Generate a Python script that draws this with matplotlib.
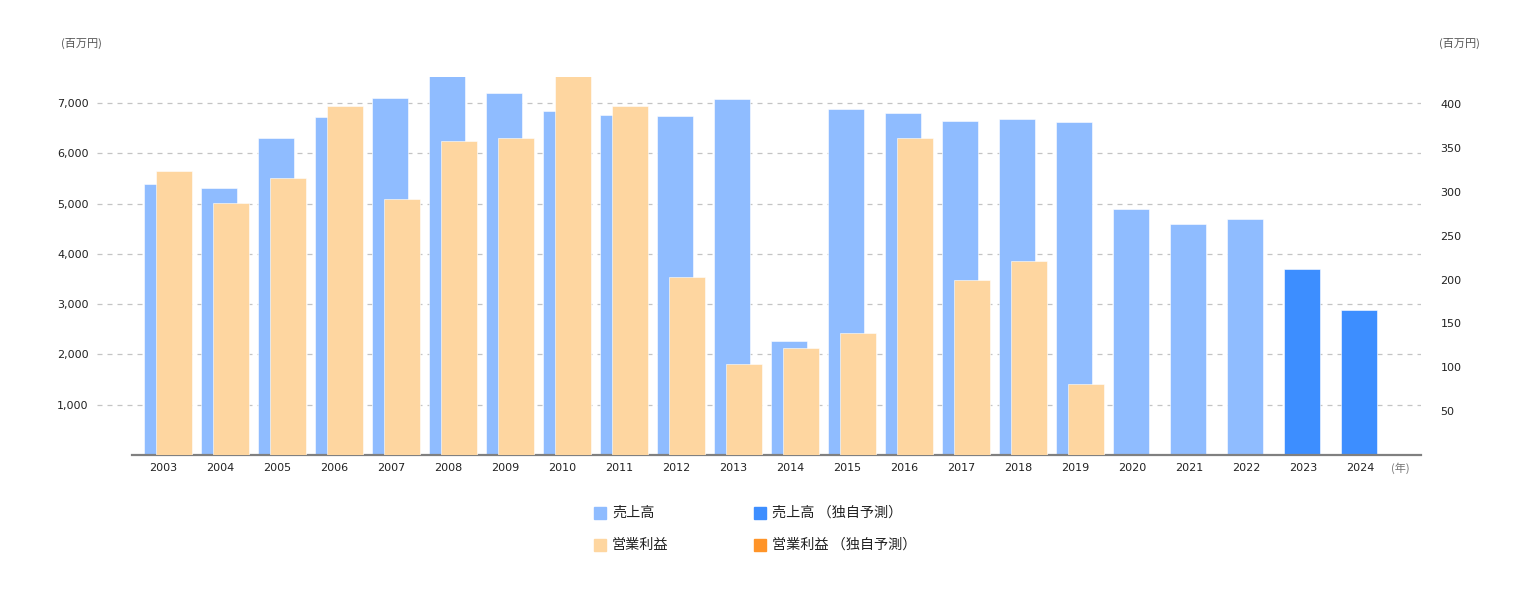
import numpy as np
import matplotlib
matplotlib.use("Agg")
import matplotlib.pyplot as plt
from matplotlib.patches import Rectangle

plt.rcParams['font.family'] = ['DejaVu Sans', 'Noto Sans CJK JP']

years = [str(y) for y in range(2003, 2025)]
sales = [5390, 5310, 6310, 6730, 7100, 7600, 7200, 6850, 6770, 6750, 7090,
         2270, 6890, 6810, 6650, 6690, 6630, 4900, 4600, 4700, 3700, 2890]
sales_forecast = [False] * 20 + [True, True]
profit = [324, 287, 316, 398, 292, 358, 361, 440, 398, 203, 104,
          122, 139, 361, 200, 221, 81, np.nan, np.nan, np.nan, np.nan, np.nan]
left_ticks = [1000, 2000, 3000, 4000, 5000, 6000, 7000]
right_ticks = [50, 100, 150, 200, 250, 300, 350, 400]

C_SALES = '#8fbcff'
C_SALES_F = '#3d8eff'
C_PROFIT = '#fed6a0'
C_PROFIT_F = '#ff9428'

W, H = 1540, 600
fig = plt.figure(figsize=(W / 100, H / 100), dpi=100)
ax_l, ax_r, ax_b, ax_t = 97, 1421, 455, 77
ax = fig.add_axes([ax_l / W, 1 - ax_b / H, (ax_r - ax_l) / W, (ax_b - ax_t) / H])
ax2 = ax.twinx()

x = np.arange(len(years))
bw = 0.63
ax.bar(x - 0.015, sales, width=bw, color=[C_SALES_F if f else C_SALES for f in sales_forecast],
       edgecolor='white', linewidth=0.4, zorder=2)
ax2.bar(x + 0.195, profit, width=bw, color=C_PROFIT, edgecolor='white', linewidth=0.4, zorder=3)

ax.set_zorder(1)
ax2.set_zorder(2)
ax2.patch.set_visible(False)

x0 = 163 - ax_l
ax.set_xlim(-x0 / 57, (ax_r - 163) / 57)
ax.set_ylim(0, 7522)
ax2.set_ylim(0, 431)

ax.set_yticks(left_ticks)
ax.set_yticklabels([f'{v:,}' for v in left_ticks])
ax2.set_yticks(right_ticks)
ax2.set_yticklabels([str(v) for v in right_ticks])
ax.set_xticks(x)
ax.set_xticklabels(years)

for a in (ax, ax2):
    for s in a.spines.values():
        s.set_visible(False)
ax.tick_params(axis='y', length=0, pad=6, labelsize=8, labelcolor='#222222')
ax2.tick_params(axis='y', length=0, pad=14, labelsize=8, labelcolor='#222222')
ax.tick_params(axis='x', length=0, pad=6, labelsize=8, labelcolor='#222222')

ax.yaxis.grid(True, color='#c4c4c4', linestyle=(0, (4, 4)), linewidth=0.9, zorder=0)
ax.set_axisbelow(True)
ax.axhline(0, xmin=(132 - ax_l) / (ax_r - ax_l), xmax=1, color='#808080', linewidth=1.6,
           zorder=5, clip_on=False)

jp = ['Noto Sans CJK JP', 'DejaVu Sans']
fig.text(61 / W, 1 - 43 / H, '(百万円)', family=jp, fontsize=8, color='#555555',
         ha='left', va='center')
fig.text(1439 / W, 1 - 43 / H, '(百万円)', family=jp, fontsize=8, color='#555555',
         ha='left', va='center')
fig.text(1391 / W, 1 - 468 / H, '(年)', family=jp, fontsize=8, color='#777777',
         ha='left', va='center')

legend_items = [
    (594, 513, C_SALES, '売上高'),
    (754, 513, C_SALES_F, '売上高 （独自予測）'),
    (594, 545, C_PROFIT, '営業利益'),
    (754, 545, C_PROFIT_F, '営業利益 （独自予測）'),
]
for lx, ly, c, t in legend_items:
    fig.patches.append(Rectangle((lx / W, 1 - (ly + 6) / H), 12 / W, 12 / H,
                                 transform=fig.transFigure, color=c))
    fig.text((lx + 18) / W, 1 - ly / H, t, family=jp, fontsize=10.2, color='#222222',
             ha='left', va='center')

fig.savefig('out.png', dpi=100)
